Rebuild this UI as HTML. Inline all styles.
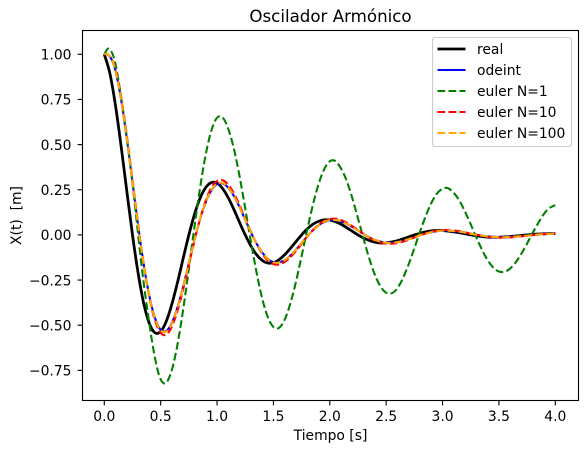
<!DOCTYPE html>
<html>
<head>
<meta charset="utf-8">
<style>
html,body{margin:0;padding:0;background:#fff;width:587px;height:453px;overflow:hidden}
svg{display:block}
text{font-family:"DejaVu Sans","Liberation Sans",sans-serif;fill:#000;white-space:pre}
</style>
</head>
<body>
<svg id="chart" width="587" height="453" viewBox="0 0 587 453" xmlns="http://www.w3.org/2000/svg">
<rect x="0" y="0" width="587" height="453" fill="#fff"/>
<text x="330.5" y="22" font-size="16.67" text-anchor="middle">Oscilador Armónico</text>
<text x="330.5" y="440" font-size="13.89" text-anchor="middle">Tiempo [s]</text>
<text x="0" y="0" font-size="13.89" text-anchor="middle" transform="translate(21,215.5) rotate(-90)">X(t)  [m]</text>
<g id="ticks"></g>
<g id="series"></g>
<rect x="82.5" y="30.5" width="496" height="370" fill="none" stroke="#000" stroke-width="1.11"/>
<g>
<rect x="432.5" y="37.5" width="139" height="109" rx="2.8" fill="#fff" fill-opacity="0.8" stroke="#ccc" stroke-width="1.11"/>
<g><line x1="437.5" x2="465.5" y1="49" y2="49" stroke="#000" stroke-width="2.78"/><text x="477" y="54" font-size="13.89">real</text></g>
<g><line x1="437.5" x2="465.5" y1="70" y2="70" stroke="#0000ff" stroke-width="2.08"/><text x="477" y="75" font-size="13.89">odeint</text></g>
<g><line x1="437.5" x2="465.5" y1="91" y2="91" stroke="#008000" stroke-width="2.08" stroke-dasharray="7.7 3.33"/><text x="477" y="96" font-size="13.89">euler N=1</text></g>
<g><line x1="437.5" x2="465.5" y1="112" y2="112" stroke="#ff0000" stroke-width="2.08" stroke-dasharray="7.7 3.33"/><text x="477" y="117" font-size="13.89">euler N=10</text></g>
<g><line x1="437.5" x2="465.5" y1="133" y2="133" stroke="#ffa500" stroke-width="2.08" stroke-dasharray="7.7 3.33"/><text x="477" y="138" font-size="13.89">euler N=100</text></g>
</g>
</svg>
<script>
const xTickValues = [0, 0.5, 1, 1.5, 2, 2.5, 3, 3.5, 4];
const xTickLabels = ["0.0", "0.5", "1.0", "1.5", "2.0", "2.5", "3.0", "3.5", "4.0"];
const yTickValues = [1, 0.75, 0.5, 0.25, 0, -0.25, -0.5, -0.75];
const yTickLabels = ["1.00", "0.75", "0.50", "0.25", "0.00", "\u22120.25", "\u22120.50", "\u22120.75"];

const timeReal = [0,.05,.1,.15,.2,.25,.3,.35,.4,.45,.5,.55,.6,.65,.7,.75,.8,.85,.9,.95,1,1.05,1.1,1.15,1.2,1.25,1.3,1.35,1.4,1.45,1.5,1.55,1.6,1.65,1.7,1.75,1.8,1.85,1.9,1.95,2,2.05,2.1,2.15,2.2,2.25,2.3,2.35,2.4,2.45,2.5,2.55,2.6,2.65,2.7,2.75,2.8,2.85,2.9,2.95,3,3.05,3.1,3.15,3.2,3.25,3.3,3.35,3.4,3.45,3.5,3.55,3.6,3.65,3.7,3.75,3.8,3.85,3.9,3.95,4];
const real = [1,.893,.713,.487,.241,0,-.212,-.380,-.491,-.542,-.535,-.478,-.382,-.261,-.129,0,.114,.204,.263,.290,.287,.256,.205,.140,.069,0,-.061,-.109,-.141,-.156,-.154,-.137,-.110,-.075,-.037,0,.033,.059,.075,.083,.082,.073,.059,.040,.020,0,-.017,-.031,-.040,-.045,-.044,-.039,-.032,-.022,-.011,0,.009,.017,.022,.024,.024,.021,.017,.012,.006,0,-.005,-.009,-.012,-.013,-.013,-.011,-.009,-.006,-.003,0,.003,.005,.006,.007,.007];

const timeNumeric = [0,.03,.08,.13,.18,.23,.28,.33,.38,.43,.48,.53,.58,.63,.68,.73,.78,.83,.88,.93,.98,1.03,1.08,1.13,1.18,1.23,1.28,1.33,1.38,1.43,1.48,1.53,1.58,1.63,1.68,1.73,1.78,1.83,1.88,1.93,1.98,2.03,2.08,2.13,2.18,2.23,2.28,2.33,2.38,2.43,2.48,2.53,2.58,2.63,2.68,2.73,2.78,2.83,2.88,2.93,2.98,3.03,3.08,3.13,3.18,3.23,3.28,3.33,3.38,3.43,3.48,3.53,3.58,3.63,3.68,3.73,3.78,3.83,3.88,3.93,3.98,4];
const odeint = [1,1,.951,.818,.622,.389,.146,-.082,-.275,-.419,-.507,-.535,-.510,-.438,-.333,-.208,-.078,.044,.147,.225,.271,.287,.273,.235,.179,.112,.042,-.024,-.079,-.120,-.146,-.154,-.146,-.126,-.096,-.060,-.022,.013,.042,.065,.078,.082,.078,.067,.051,.032,.012,-.007,-.023,-.034,-.042,-.044,-.042,-.036,-.027,-.017,-.006,.004,.012,.019,.022,.024,.022,.019,.015,.009,.003,-.002,-.007,-.010,-.012,-.013,-.012,-.010,-.008,-.005,-.002,.001,.003,.005,.006,.007];
const euler10 = [1,1,.955,.83,.637,.403,.157,-.08,-.28,-.43,-.523,-.555,-.531,-.458,-.35,-.22,-.085,.045,.153,.238,.288,.305,.291,.251,.192,.121,.047,-.024,-.083,-.128,-.156,-.165,-.157,-.136,-.104,-.066,-.025,.013,.045,.07,.085,.09,.086,.074,.056,.036,.014,-.007,-.025,-.038,-.047,-.049,-.047,-.041,-.031,-.019,-.007,.004,.014,.021,.025,.027,.025,.022,.017,.01,.004,-.002,-.008,-.012,-.014,-.015,-.014,-.012,-.009,-.006,-.002,.001,.004,.006,.007,.008];
const euler100 = [1,1,.952,.820,.624,.391,.147,-.082,-.276,-.421,-.510,-.538,-.513,-.441,-.335,-.209,-.078,.044,.148,.227,.273,.289,.275,.237,.180,.113,.043,-.024,-.080,-.121,-.147,-.155,-.147,-.127,-.097,-.060,-.022,.013,.042,.066,.079,.083,.079,.068,.052,.032,.012,-.007,-.023,-.034,-.042,-.045,-.042,-.036,-.027,-.017,-.006,.004,.012,.019,.022,.024,.022,.019,.015,.009,.003,-.002,-.007,-.010,-.012,-.013,-.012,-.010,-.008,-.005,-.002,.001,.003,.005,.006,.007];

const timeEuler1 = [0,.04,.09,.14,.19,.24,.29,.34,.39,.44,.49,.54,.59,.64,.69,.74,.79,.84,.89,.94,.99,1.04,1.09,1.14,1.19,1.24,1.29,1.34,1.39,1.44,1.49,1.54,1.59,1.64,1.69,1.74,1.79,1.84,1.89,1.94,1.99,2.04,2.09,2.14,2.19,2.24,2.29,2.34,2.39,2.44,2.49,2.54,2.59,2.64,2.69,2.74,2.79,2.84,2.89,2.94,2.99,3.04,3.09,3.14,3.19,3.24,3.29,3.34,3.39,3.44,3.49,3.54,3.59,3.64,3.69,3.74,3.79,3.84,3.89,3.94,3.99,4];
const euler1 = [1,1.031,.97,.80,.585,.34,.06,-.22,-.45,-.65,-.785,-.822,-.766,-.637,-.453,-.233,0,.222,.414,.557,.640,.655,.603,.501,.357,.183,0,-.174,-.325,-.438,-.503,-.518,-.482,-.400,-.285,-.147,0,.140,.260,.350,.402,.412,.378,.315,.224,.114,0,-.110,-.205,-.275,-.316,-.325,-.303,-.251,-.178,-.092,0,.087,.163,.220,.252,.260,.239,.199,.141,.073,0,-.069,-.130,-.174,-.200,-.205,-.191,-.159,-.113,-.059,0,.056,.108,.145,.162,.165];

const NS = "http://www.w3.org/2000/svg";
function xScale(v) { return 104.3 + v * 112.75; }
function yScale(v) { return 54.3 + (1 - v) * 180.6; }

const tickLayer = document.getElementById("ticks");
xTickValues.forEach(function (v, i) {
  const mark = document.createElementNS(NS, "line");
  
  
  mark.setAttribute("x1", xScale(v));
  mark.setAttribute("x2", xScale(v));
  mark.setAttribute("y1", 400.5);
  mark.setAttribute("y2", 405.4);
  mark.setAttribute("stroke", "#000");
  mark.setAttribute("stroke-width", 1.11);
  tickLayer.appendChild(mark);
  const label = document.createElementNS(NS, "text");
  
  
  label.setAttribute("x", xScale(v));
  label.setAttribute("y", 421);
  label.setAttribute("font-size", 13.89);
  label.setAttribute("text-anchor", "middle");
  label.textContent = xTickLabels[i];
  tickLayer.appendChild(label);
});
yTickValues.forEach(function (v, i) {
  const mark = document.createElementNS(NS, "line");
  
  
  mark.setAttribute("x1", 77.6);
  mark.setAttribute("x2", 82.5);
  mark.setAttribute("y1", yScale(v));
  mark.setAttribute("y2", yScale(v));
  mark.setAttribute("stroke", "#000");
  mark.setAttribute("stroke-width", 1.11);
  tickLayer.appendChild(mark);
  const label = document.createElementNS(NS, "text");
  
  
  label.setAttribute("x", 71.5);
  label.setAttribute("y", yScale(v) + 5.2);
  label.setAttribute("font-size", 13.89);
  label.setAttribute("text-anchor", "end");
  label.textContent = yTickLabels[i];
  tickLayer.appendChild(label);
});

function drawSeries(name, times, values, color, width, dash) {
  const path = document.createElementNS(NS, "path");
  
  
  const px = times.map(xScale);
  const py = values.map(yScale);
  const n = values.length;
  let d = "M" + px[0].toFixed(2) + " " + py[0].toFixed(2);
  for (let i = 0; i < n - 1; i++) {
    const a = Math.max(i - 1, 0);
    const b = Math.min(i + 2, n - 1);
    const c1x = px[i] + (px[i + 1] - px[a]) / 6;
    const c1y = py[i] + (py[i + 1] - py[a]) / 6;
    const c2x = px[i + 1] - (px[b] - px[i]) / 6;
    const c2y = py[i + 1] - (py[b] - py[i]) / 6;
    d += "C" + c1x.toFixed(2) + " " + c1y.toFixed(2) + " " + c2x.toFixed(2) + " " + c2y.toFixed(2) + " " + px[i + 1].toFixed(2) + " " + py[i + 1].toFixed(2);
  }
  path.setAttribute("d", d);
  path.setAttribute("fill", "none");
  path.setAttribute("stroke", color);
  path.setAttribute("stroke-width", width);
  path.setAttribute("stroke-linejoin", "round");
  if (dash) path.setAttribute("stroke-dasharray", dash);
  document.getElementById("series").appendChild(path);
}
drawSeries("series-real", timeReal, real, "#000", 2.78, "");
drawSeries("series-odeint", timeNumeric, odeint, "#0000ff", 2.08, "");
drawSeries("series-euler-1", timeEuler1, euler1, "#008000", 2.08, "7.7 3.33");
drawSeries("series-euler-10", timeNumeric, euler10, "#ff0000", 2.08, "7.7 3.33");
drawSeries("series-euler-100", timeNumeric, euler100, "#ffa500", 2.08, "7.7 3.33");
</script>
</body>
</html>
